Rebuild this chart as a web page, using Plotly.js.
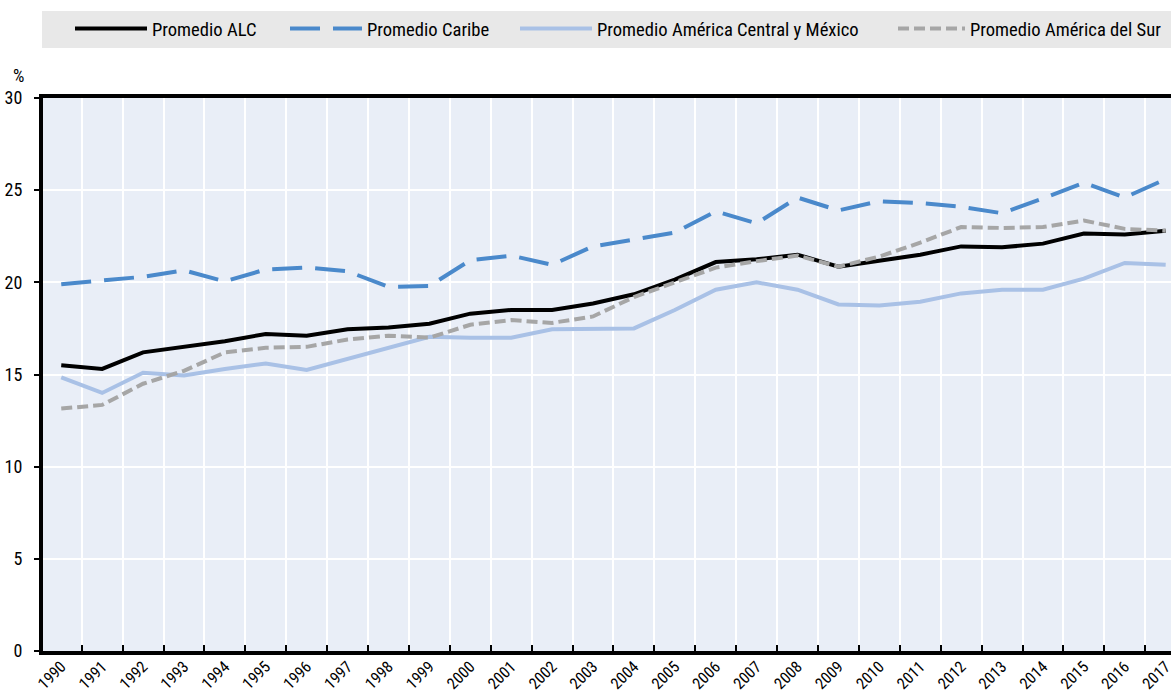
<!DOCTYPE html>
<html>
<head>
<meta charset="utf-8">
<script src="https://cdn.plot.ly/plotly-3.0.1.min.js"></script>
<style>html,body{margin:0;padding:0;background:#fff;overflow:hidden;}#chart{width:1171px;height:692px;}</style>
</head>
<body>
<div id="chart"></div>
<script>
const years = ["1990","1991","1992","1993","1994","1995","1996","1997","1998","1999","2000","2001","2002","2003","2004","2005","2006","2007","2008","2009","2010","2011","2012","2013","2014","2015","2016","2017"];
const promedioALC = [15.5,15.3,16.2,16.5,16.8,17.2,17.1,17.45,17.55,17.75,18.3,18.5,18.5,18.85,19.35,20.15,21.1,21.25,21.5,20.85,21.15,21.5,21.95,21.9,22.1,22.65,22.6,22.8];
const promedioCaribe = [19.9,20.1,20.3,20.65,20.05,20.7,20.8,20.6,19.75,19.8,21.2,21.45,20.95,21.95,22.3,22.7,23.85,23.2,24.6,23.9,24.4,24.3,24.1,23.75,24.55,25.4,24.6,25.6];
const promedioCentral = [14.85,14.0,15.1,14.95,15.3,15.6,15.25,15.85,16.5,17.05,17.0,17.0,17.45,17.5,17.5,18.5,19.6,20.0,19.6,18.8,18.75,18.95,19.4,19.6,19.6,20.2,21.05,20.95];
const promedioSur = [13.15,13.35,14.5,15.2,16.2,16.45,16.5,16.9,17.1,17.0,17.7,17.95,17.8,18.15,19.2,20.0,20.8,21.15,21.45,20.85,21.4,22.15,23.0,22.95,23.0,23.35,22.9,22.8];
const seriesNames = ["Promedio ALC","Promedio Caribe","Promedio América Central y México","Promedio América del Sur"];
const yTicks = [0,5,10,15,20,25,30];

const FONT = "'Liberation Sans Narrow', 'Arial Narrow', 'Roboto Condensed', 'Liberation Sans', Arial, sans-serif";

const W = 1171, H = 692;
const L = 43, R = 0, T = 98, B = 41;
const pw = W - L - R, ph = H - T - B;
const px2x = p => (p - L) / pw;
const py2y = p => (H - B - p) / ph;

const traces = [
  {x: years, y: promedioALC, name: seriesNames[0], mode: "lines", legend: "legend",
   line: {color: "#000000", width: 4}},
  {x: years, y: promedioCaribe, name: seriesNames[1], mode: "lines", legend: "legend2",
   line: {color: "#4a89cb", width: 4, dash: "30px,13px"}},
  {x: years, y: promedioCentral, name: seriesNames[2], mode: "lines", legend: "legend3",
   line: {color: "#a9c1e6", width: 4}},
  {x: years, y: promedioSur, name: seriesNames[3], mode: "lines", legend: "legend4",
   line: {color: "#a6a6a6", width: 4, dash: "11px,5px"}}
];

function leg(pxStart, iw) {
  return {orientation: "h", x: px2x(pxStart), xanchor: "left", y: py2y(29), yanchor: "middle",
    bgcolor: "rgba(0,0,0,0)", borderwidth: 0, itemwidth: iw,
    font: {family: FONT, size: 18.6, color: "#000"}};
}

const layout = {
  width: W, height: H,
  margin: {l: L, r: R, t: T, b: B, pad: 0},
  paper_bgcolor: "#ffffff",
  plot_bgcolor: "#e9eef7",
  font: {family: FONT, color: "#000"},
  showlegend: true,
  legend: leg(70, 72),
  legend2: leg(285, 72),
  legend3: leg(515, 72),
  legend4: leg(893, 67),
  xaxis: {
    type: "category",
    range: [-0.446, 27.13],
    tickson: "boundaries",
    ticks: "inside", ticklen: 6, tickwidth: 2, tickcolor: "#000",
    ticklabelstandoff: -4,
    showgrid: true, gridcolor: "#ffffff", gridwidth: 2,
    showline: true, linecolor: "#000", linewidth: 4, mirror: true,
    tickangle: -45,
    tickfont: {family: FONT, size: 16, color: "#000"},
    zeroline: false, fixedrange: true
  },
  yaxis: {
    range: [0, 30],
    tickvals: yTicks,
    ticktext: yTicks.map(String),
    ticks: "outside", ticklen: 5, tickwidth: 2, tickcolor: "#000",
    ticklabelstandoff: 8,
    showgrid: true, gridcolor: "#ffffff", gridwidth: 2,
    showline: true, linecolor: "#000", linewidth: 4,
    tickfont: {family: FONT, size: 18, color: "#000"},
    zeroline: false, fixedrange: true
  },
  shapes: [
    {type: "rect", xref: "paper", yref: "paper", layer: "below",
     x0: px2x(42), x1: 1.0, y0: py2y(48), y1: py2y(11),
     fillcolor: "#e8e8e8", line: {width: 0}}
  ],
  annotations: [
    {xref: "paper", yref: "paper", x: px2x(18), y: py2y(76), text: "%", showarrow: false,
     xanchor: "center", yanchor: "middle", font: {family: FONT, size: 18, color: "#000"}}
  ]
};

Plotly.newPlot("chart", traces, layout, {displayModeBar: false, staticPlot: true});
</script>
</body>
</html>
